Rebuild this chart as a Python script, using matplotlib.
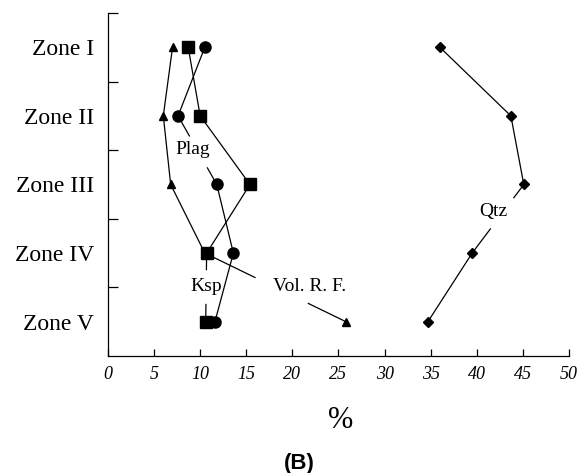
import matplotlib
matplotlib.use("Agg")
import matplotlib.pyplot as plt

# zones from top to bottom
zones = ["Zone I", "Zone II", "Zone III", "Zone IV", "Zone V"]

# percentages
plag = [10.5, 7.6, 11.8, 13.6, 11.6]
ksp = [8.7, 10.0, 15.4, 10.7, 10.6]
volrf = [7.0, 6.0, 6.8, 10.5, 25.8]
qtz = [36.0, 43.7, 45.1, 39.5, 34.7]

x_ticks = [0, 5, 10, 15, 20, 25, 30, 35, 40, 45, 50]

serif = "Liberation Serif"


# draw a series as line segments, leaving a gap where a label sits
def drawSeries(ax, values, marker, size, gaps):
    ys = list(range(1, len(values) + 1))
    for i in range(len(values) - 1):
        x0, x1 = values[i], values[i + 1]
        y0, y1 = ys[i], ys[i + 1]
        if i in gaps:
            t0, t1 = gaps[i]
            parts = [(0, t0), (t1, 1)]
        else:
            parts = [(0, 1)]
        for a, b in parts:
            ax.plot([x0 + (x1 - x0) * a, x0 + (x1 - x0) * b],
                    [y0 + (y1 - y0) * a, y0 + (y1 - y0) * b],
                    color="black", lw=0.9, solid_capstyle="butt")
    ax.plot(values, ys, linestyle="none", marker=marker, markersize=size,
            color="black", zorder=3)


fig = plt.figure(figsize=(5.85, 4.73), dpi=100)
ax = fig.add_axes([0.1846, 0.2474, 0.788, 0.7251])

drawSeries(ax, volrf, "^", 6, {3: (0.36, 0.73)})
drawSeries(ax, plag, "o", 8, {1: (0.30, 0.75)})
drawSeries(ax, ksp, "s", 8, {3: (0.25, 0.74)})
drawSeries(ax, qtz, "D", 5.5, {2: (0.20, 0.64)})

ax.text(9.2, 2.49, "Plag", family=serif, fontsize=14, ha="center", va="center")
ax.text(10.7, 4.48, "Ksp", family=serif, fontsize=14, ha="center", va="center")
ax.text(21.9, 4.48, "Vol. R. F.", family=serif, fontsize=14, ha="center", va="center")
ax.text(41.8, 3.39, "Qtz", family=serif, fontsize=14, ha="center", va="center")

ax.set_xlim(0, 50)
ax.set_ylim(5.5, 0.5)

ax.set_xticks(x_ticks)
ax.set_xticklabels([str(v) for v in x_ticks], family=serif, style="italic", fontsize=13)
ax.tick_params(axis="x", direction="in", length=5, width=0.9, pad=7)

ax.set_yticks(range(1, len(zones) + 1))
ax.set_yticklabels(zones, family=serif, fontsize=17)
ax.set_yticks([0.5, 1.5, 2.5, 3.5, 4.5], minor=True)
ax.tick_params(axis="y", which="major", length=0, pad=10)
ax.tick_params(axis="y", which="minor", direction="in", length=7, width=0.9)

ax.spines["top"].set_visible(False)
ax.spines["right"].set_visible(False)
ax.spines["left"].set_linewidth(0.9)
ax.spines["bottom"].set_linewidth(0.9)

fig.text(0.583, 0.110, "%", family=serif, fontsize=22, ha="center", va="center")
fig.text(0.511, 0.020, "(B)", family="Liberation Sans", fontweight="bold",
         fontsize=16, ha="center", va="center")

fig.savefig("out.png", dpi=100)
